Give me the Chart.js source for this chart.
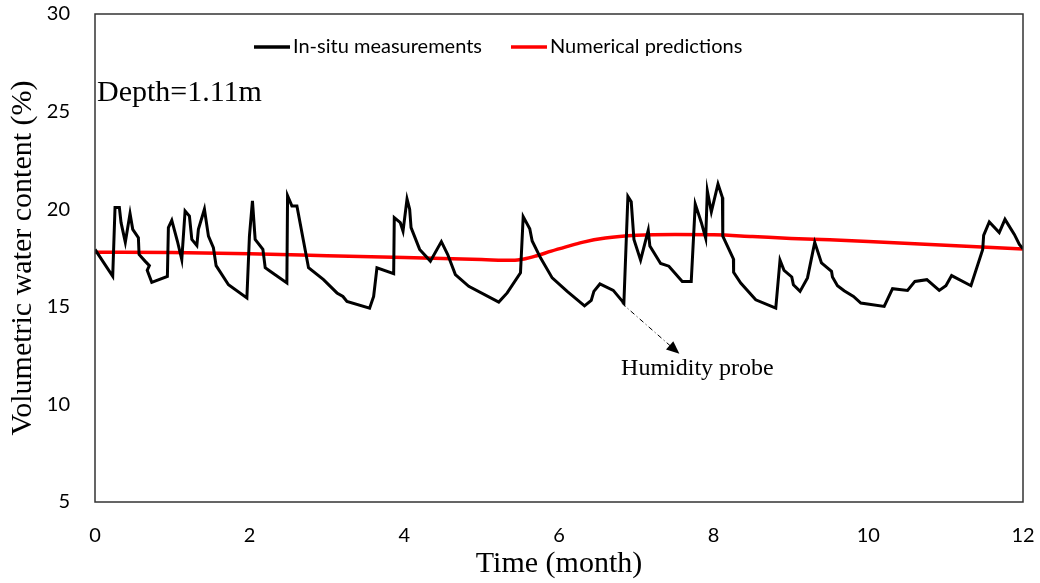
<!DOCTYPE html>
<html>
<head>
<meta charset="utf-8">
<script src="https://cdn.jsdelivr.net/npm/chart.js@4"></script>
<style>
  html, body { margin: 0; padding: 0; background: #fff; }
  #wrap { width: 1040px; height: 583px; }
</style>
</head>
<body>
<div id="wrap"><canvas id="chart" width="1040" height="583"></canvas></div>
<script>
// measured series (month, %)
const insituMonths = [0, 0.229, 0.259, 0.315, 0.337, 0.392, 0.453, 0.488, 0.561, 0.570, 0.647, 0.703, 0.675, 0.734,
  0.936, 0.949, 0.993, 1.065, 1.122, 1.165, 1.221, 1.252, 1.317, 1.337, 1.415, 1.467, 1.531, 1.566, 1.726, 1.964,
  1.997, 2.036, 2.071, 2.171, 2.201, 2.265, 2.481, 2.49, 2.546, 2.611, 2.696, 2.761, 2.955, 3.129, 3.206, 3.258,
  3.551, 3.603, 3.646, 3.862, 3.87, 3.948, 3.983, 4.035, 4.069, 4.087, 4.198, 4.337, 4.479, 4.561, 4.660, 4.833,
  5.221, 5.330, 5.502, 5.537, 5.622, 5.653, 5.761, 5.912, 6.106, 6.330, 6.417, 6.451, 6.529, 6.702, 6.839, 6.891,
  6.934, 6.969, 7.055, 7.154, 7.175, 7.314, 7.421, 7.594, 7.71, 7.762, 7.841, 7.897, 7.918, 7.970, 8.056, 8.113,
  8.118, 8.255, 8.258, 8.35, 8.544, 8.803, 8.858, 8.91, 9.01, 9.031, 9.117, 9.213, 9.307, 9.394, 9.524, 9.536,
  9.601, 9.687, 9.808, 9.903, 10.205, 10.313, 10.507, 10.602, 10.757, 10.917, 11.003, 11.077, 11.327, 11.479,
  11.491, 11.564, 11.693, 11.767, 11.888, 11.953, 12.0];
const insituValues = [17.94, 16.56, 20.09, 20.09, 19.31, 18.31, 19.78, 18.97, 18.54, 17.68, 17.34, 17.11, 16.87, 16.25,
  16.56, 19.06, 19.43, 18.37, 17.42, 19.91, 19.65, 18.45, 18.14, 18.97, 20.0, 18.62, 18.03, 17.11, 16.13, 15.45,
  18.62, 20.43, 18.45, 17.94, 17.0, 16.82, 16.22, 20.69, 20.17, 20.17, 18.37, 17.0, 16.39, 15.71, 15.53, 15.27,
  14.93, 15.53, 17.0, 16.7, 19.57, 19.31, 18.88, 20.52, 20.0, 19.06, 17.94, 17.34, 18.34, 17.68, 16.65, 16.05,
  15.24, 15.71, 16.74, 19.62, 19.0, 18.37, 17.51, 16.48, 15.79, 15.05, 15.33, 15.79, 16.17, 15.84, 15.19, 20.65,
  20.38, 18.45, 17.39, 18.92, 18.11, 17.22, 17.08, 16.3, 16.3, 20.26, 19.31, 18.51, 20.94, 19.86, 21.29, 20.6,
  18.62, 17.46, 16.77, 16.22, 15.36, 14.93, 17.39, 16.87, 16.53, 16.13, 15.79, 16.48, 18.3, 17.25, 16.82, 16.53,
  16.08, 15.82, 15.53, 15.19, 15.02, 15.93, 15.84, 16.3, 16.39, 15.84, 16.08, 16.6, 16.08, 17.94,
  18.66, 19.35, 18.8, 19.48, 18.71, 18.2, 17.97];

// numerical predictions
const predMonths = [0, 1, 2, 3, 4, 5, 5.4, 5.55, 5.7, 5.9, 6.1, 6.3, 6.6, 7.0, 7.5, 8.0, 8.5, 9.0, 9.5, 10, 11, 12];
const predValues = [17.8, 17.78, 17.72, 17.62, 17.52, 17.42, 17.38, 17.45, 17.6, 17.85, 18.08, 18.3, 18.52, 18.66,
  18.7, 18.69, 18.6, 18.5, 18.43, 18.35, 18.15, 17.96];

const xTicks = [0, 2, 4, 6, 8, 10, 12];
const yTicks = [5, 10, 15, 20, 25, 30];

const serif = "'Liberation Serif', 'Times New Roman', serif";
const sans = "Lato, 'Open Sans', sans-serif";

// box, legend and text annotations
const extras = {
  id: 'extras',
  afterDraw(chart) {
    const { ctx, chartArea: a, scales: { x, y } } = chart;
    ctx.save();
    ctx.strokeStyle = '#333';
    ctx.lineWidth = 1.5;
    ctx.strokeRect(a.left, a.top, a.right - a.left, a.bottom - a.top);

    // legend inside the plot
    ctx.font = '20px ' + sans;
    ctx.textBaseline = 'middle';
    ctx.textAlign = 'left';
    let lx = a.left + 159;
    const ly = 47;
    chart.data.datasets.forEach(ds => {
      ctx.strokeStyle = ds.borderColor;
      ctx.lineWidth = 3.5;
      ctx.beginPath();
      ctx.moveTo(lx, ly);
      ctx.lineTo(lx + 36, ly);
      ctx.stroke();
      ctx.fillStyle = '#000';
      ctx.fillText(ds.label, lx + 39, ly);
      lx += 39 + ctx.measureText(ds.label).width + 29;
    });

    // depth label
    ctx.font = '30px ' + serif;
    ctx.textBaseline = 'alphabetic';
    ctx.fillText('Depth=1.11m', a.left + 2, 101);

    // humidity probe arrow
    const x0 = x.getPixelForValue(6.81), y0 = y.getPixelForValue(15.19);
    const x1 = x.getPixelForValue(7.557), y1 = y.getPixelForValue(12.59);
    const ang = Math.atan2(y1 - y0, x1 - x0);
    ctx.strokeStyle = '#000';
    ctx.lineWidth = 1;
    ctx.setLineDash([5, 3, 1, 3]);
    ctx.beginPath();
    ctx.moveTo(x0, y0);
    ctx.lineTo(x1 - 10 * Math.cos(ang), y1 - 10 * Math.sin(ang));
    ctx.stroke();
    ctx.setLineDash([]);
    ctx.fillStyle = '#000';
    ctx.beginPath();
    ctx.moveTo(x1, y1);
    ctx.lineTo(x1 - 13 * Math.cos(ang) + 5.5 * Math.sin(ang), y1 - 13 * Math.sin(ang) - 5.5 * Math.cos(ang));
    ctx.lineTo(x1 - 13 * Math.cos(ang) - 5.5 * Math.sin(ang), y1 - 13 * Math.sin(ang) + 5.5 * Math.cos(ang));
    ctx.closePath();
    ctx.fill();

    ctx.font = '24px ' + serif;
    ctx.textAlign = 'center';
    ctx.textBaseline = 'alphabetic';
    ctx.fillText('Humidity probe', x.getPixelForValue(7.79), y.getPixelForValue(11.92) + 8);
    ctx.restore();
  }
};

new Chart(document.getElementById('chart'), {
  type: 'line',
  data: {
    datasets: [
      {
        label: 'In-situ measurements',
        data: insituMonths.map((m, i) => ({ x: m, y: insituValues[i] })),
        borderColor: '#000',
        borderWidth: 3,
        pointRadius: 0,
        tension: 0
      },
      {
        label: 'Numerical predictions',
        data: predMonths.map((m, i) => ({ x: m, y: predValues[i] })),
        borderColor: '#ff0000',
        borderWidth: 3.5,
        pointRadius: 0,
        cubicInterpolationMode: 'monotone'
      }
    ]
  },
  options: {
    responsive: false,
    animation: false,
    layout: { padding: { top: 14, right: 17, left: 0, bottom: 0 } },
    plugins: { legend: { display: false }, tooltip: { enabled: false } },
    scales: {
      x: {
        type: 'linear',
        min: 0,
        max: 12,
        afterBuildTicks: s => { s.ticks = xTicks.map(v => ({ value: v })); },
        afterFit: s => { s.height = 81; s.paddingLeft = 0; s.paddingRight = 0; },
        grid: { display: false, drawTicks: false },
        border: { display: false },
        ticks: { color: '#000', padding: 22, font: { family: sans, size: 20 } },
        title: { display: true, text: 'Time (month)', color: '#000', padding: { top: 0, bottom: 1 }, font: { family: serif, size: 30 } }
      },
      y: {
        min: 5,
        max: 30,
        afterBuildTicks: s => { s.ticks = yTicks.map(v => ({ value: v })); },
        afterFit: s => { s.width = 95; s.paddingTop = 0; s.paddingBottom = 0; },
        grid: { display: false, drawTicks: false },
        border: { display: false },
        ticks: { color: '#000', padding: 25, font: { family: sans, size: 20 } },
        title: { display: true, text: 'Volumetric water content (%)', color: '#000', padding: { top: 5, bottom: 0 }, font: { family: serif, size: 30 } }
      }
    }
  },
  plugins: [extras]
});
</script>
</body>
</html>
